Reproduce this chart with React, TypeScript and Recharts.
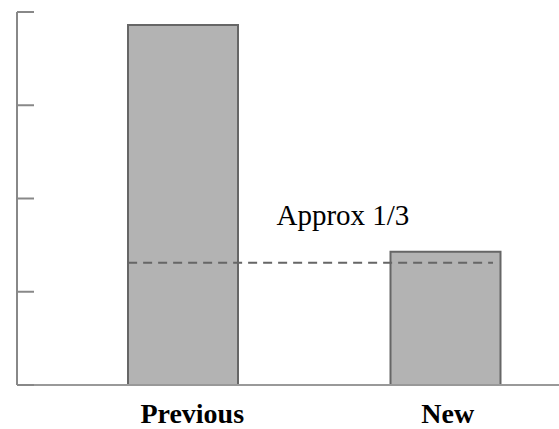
import {
  BarChart,
  Bar,
  XAxis,
  YAxis,
  ReferenceLine,
  ReferenceDot,
} from "recharts";

const categories = ["Previous", "New"];
const values = [3.86, 1.43];
const yTicks = [0, 1, 2, 3, 4];

// x runs in category units: category i sits at i + 0.5
const xTicks = categories.map((_, i) => i + 0.5);

// dashed "one third" guide and its note, in the same units
const guideValue = 1.31;
const guideFrom = 0.29;
const guideTo = 1.68;
const noteText = "Approx 1/3";
const notePos = { x: 0.855, y: 1.72 };

const data = categories.map((name, i) => ({ name, pos: xTicks[i], value: values[i] }));

const serif = "'Liberation Serif', 'Times New Roman', serif";
// the original labels sit a little right of the bar centres
const labelShift = [9, 2];

function CategoryTick({ x, y, payload }: any) {
  const i = Math.round(payload.value - 0.5);
  return (
    <text
      x={x + (labelShift[i] ?? 0)}
      y={y + 38}
      textAnchor="middle"
      fontFamily={serif}
      fontWeight="bold"
      fontSize={28}
      fill="#000"
    >
      {categories[i]}
    </text>
  );
}

export default function App() {
  return (
    <div style={{ position: "absolute", left: 0, top: 0, background: "#fff" }}>
      <BarChart
        width={559}
        height={429}
        data={data}
        margin={{ top: 12, right: -18, left: 17, bottom: 0 }}
      >
        <XAxis
          dataKey="pos"
          type="number"
          domain={[0, 2]}
          ticks={xTicks}
          allowDataOverflow
          height={44}
          padding={{ left: 35, right: 0 }}
          axisLine={{ stroke: "#999", strokeWidth: 2 }}
          tickLine={false}
          tickSize={0}
          tickMargin={0}
          tick={<CategoryTick />}
        />
        <YAxis
          domain={[0, 4]}
          ticks={yTicks}
          width={1}
          mirror
          tickSize={17}
          axisLine={{ stroke: "#888", strokeWidth: 2 }}
          tickLine={{ stroke: "#888", strokeWidth: 2 }}
          tickFormatter={() => ""}
        />
        <Bar
          dataKey="value"
          barSize={110}
          fill="#b3b3b3"
          stroke="#666"
          strokeWidth={2}
          isAnimationActive={false}
        />
        <ReferenceLine
          segment={[
            { x: guideFrom, y: guideValue },
            { x: guideTo, y: guideValue },
          ]}
          stroke="#666"
          strokeWidth={2}
          strokeDasharray="9 6"
        />
        <ReferenceDot
          x={notePos.x}
          y={notePos.y}
          r={0}
          fill="none"
          stroke="none"
          label={{
            content: (props: any) => (
              <text
                x={props.viewBox.x}
                y={props.viewBox.y}
                fontFamily={serif}
                fontSize={29}
                fill="#000"
              >
                {noteText}
              </text>
            ),
          }}
        />
      </BarChart>
    </div>
  );
}
